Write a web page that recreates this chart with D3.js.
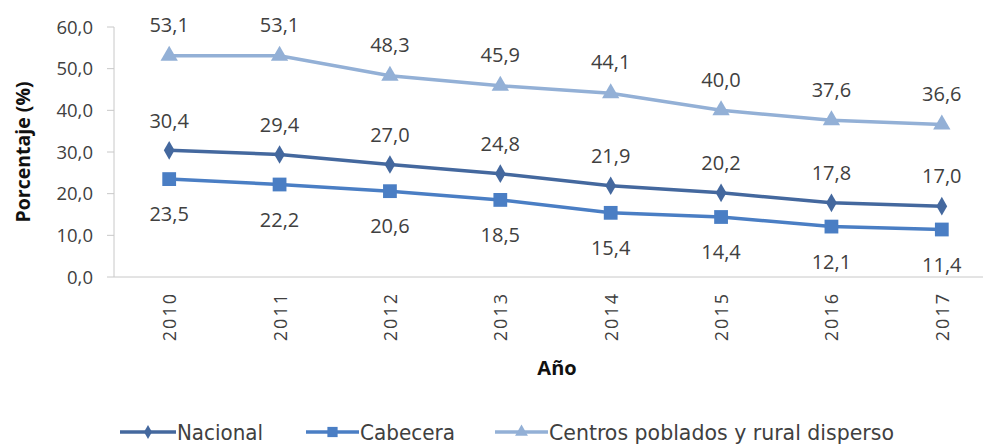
<!DOCTYPE html>
<html><head><meta charset="utf-8">
<script src="https://cdn.jsdelivr.net/npm/d3@7"></script>
<style>body{margin:0;background:#fff}svg{font-family:"Open Sans","Liberation Sans",sans-serif}</style>
</head><body><svg id="c" width="985" height="448"></svg>
<script>
const years = ["2010","2011","2012","2013","2014","2015","2016","2017"];
const nacional = [30.4,29.4,27.0,24.8,21.9,20.2,17.8,17.0];
const cabecera = [23.5,22.2,20.6,18.5,15.4,14.4,12.1,11.4];
const centros = [53.1,53.1,48.3,45.9,44.1,40.0,37.6,36.6];
const yTicks = [0,10,20,30,40,50,60];
const seriesNames = ["Nacional","Cabecera","Centros poblados y rural disperso"];

const svg = d3.select("#c");
const x = d3.scaleBand().domain(years).range([114,997]);
const y = d3.scaleLinear().domain([0,60]).range([277,27]);
const fmt = v => v.toFixed(1).replace(".",",");
const cx = d => x(d)+x.bandwidth()/2;

// axes
svg.append("line").attr("x1",114).attr("x2",983).attr("y1",y(0)).attr("y2",y(0)).attr("stroke","#c8c8c8");
svg.append("line").attr("x1",114).attr("x2",114).attr("y1",y(0)).attr("y2",y(60)).attr("stroke","#c8c8c8");
yTicks.forEach(t=>{
  svg.append("line").attr("x1",107).attr("x2",114).attr("y1",y(t)).attr("y2",y(t)).attr("stroke","#c8c8c8");
  svg.append("text").attr("x",93).attr("y",y(t)).attr("dy","0.36em").attr("text-anchor","end")
    .attr("font-size",18.5).attr("fill","#404040").text(fmt(t));
});
years.forEach(yr=>{
  svg.append("text").attr("transform",`translate(${cx(yr)+7},292) rotate(-90)`).attr("text-anchor","end")
    .attr("font-size",18).attr("fill","#404040").attr("letter-spacing","2").text(yr);
});
svg.append("text").attr("x",557).attr("y",375).attr("text-anchor","middle").attr("font-weight","bold")
  .attr("font-size",20).attr("fill","#111").text("Año");
svg.append("text").attr("transform","translate(30,152) rotate(-90)").attr("text-anchor","middle")
  .attr("font-weight","bold").attr("font-size",19.5).attr("fill","#111").text("Porcentaje (%)");

const series = [
  {name:seriesNames[0], data:nacional, color:"#44689e", shape:d3.symbolDiamond, size:100, off:-30},
  {name:seriesNames[1], data:cabecera, color:"#4a7ec4", shape:d3.symbolSquare, size:190, off:35},
  {name:seriesNames[2], data:centros, color:"#93b0d6", shape:d3.symbolTriangle, size:130, off:-31}
];
const line = d3.line().x((d,i)=>cx(years[i])).y(d=>y(d));
series.forEach(s=>{
  svg.append("path").datum(s.data).attr("d",line).attr("fill","none").attr("stroke",s.color).attr("stroke-width",3.5);
  svg.selectAll(null).data(s.data).enter().append("path")
    .attr("d",d3.symbol().type(s.shape).size(s.size))
    .attr("transform",(d,i)=>`translate(${cx(years[i])},${y(d)})`).attr("fill",s.color);
  svg.selectAll(null).data(s.data).enter().append("text")
    .attr("x",(d,i)=>cx(years[i])).attr("y",d=>y(d)+s.off).attr("dy","0.36em").attr("text-anchor","middle")
    .attr("font-size",20).attr("fill","#404040").text(d=>fmt(d));
});

// legend
const leg = [{x:120,tx:176,w:86},{x:306,tx:359,w:95},{x:495,tx:548,w:345}];
series.forEach((s,i)=>{
  const g = svg.append("g");
  g.append("line").attr("x1",leg[i].x).attr("x2",leg[i].tx).attr("y1",432).attr("y2",432).attr("stroke",s.color).attr("stroke-width",3.5);
  g.append("path").attr("d",d3.symbol().type(s.shape).size(s.size*0.55)).attr("transform",`translate(${(leg[i].x+leg[i].tx)/2},432)`).attr("fill",s.color);
  g.append("text").attr("x",leg[i].tx+1).attr("y",432).attr("dy","0.36em").attr("font-size",22)
    .attr("font-family","'Liberation Sans Narrow','DejaVu Sans Condensed','Open Sans',sans-serif")
    .attr("textLength",leg[i].w).attr("lengthAdjust","spacingAndGlyphs")
    .attr("fill","#404040").text(s.name);
});
</script></body></html>
